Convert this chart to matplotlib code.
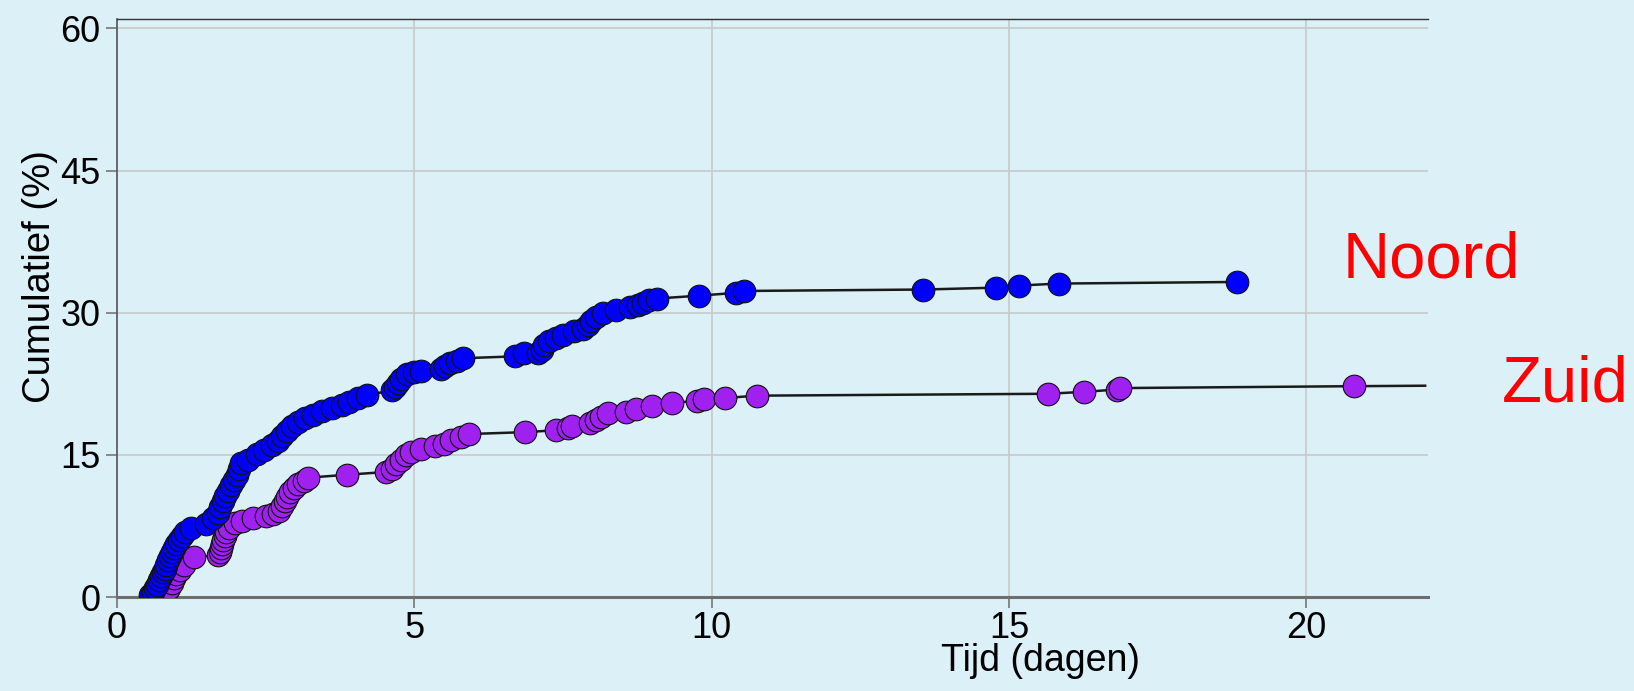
#!/usr/bin/env python3

import matplotlib
matplotlib.use('Agg')
import matplotlib.pyplot as plt

# cumulatief percentage per tijdstip (dagen)
noord_x = [0.55, 0.60, 0.64, 0.68, 0.71, 0.74, 0.77, 0.80, 0.83, 0.86,
           0.89, 0.92, 0.96, 1.00, 1.04, 1.09, 1.15, 1.24, 1.50, 1.62,
           1.70, 1.74, 1.78, 1.82, 1.86, 1.91, 1.96, 2.01, 2.05, 2.09,
           2.20, 2.35, 2.48, 2.60, 2.70, 2.78, 2.86, 2.95, 3.05, 3.17,
           3.30, 3.45, 3.62, 3.78, 3.90, 4.05, 4.20, 4.62, 4.68, 4.73,
           4.78, 4.87, 5.00, 5.12, 5.45, 5.52, 5.60, 5.72, 5.82, 6.70,
           6.84, 7.08, 7.14, 7.18, 7.26, 7.38, 7.50, 7.68, 7.84, 7.92,
           7.98, 8.06, 8.17, 8.40, 8.62, 8.76, 8.85, 8.95, 9.08, 9.78,
           10.41, 10.55, 13.56, 14.79, 15.17, 15.84, 18.84]
noord_y = [0.2, 0.5, 0.9, 1.3, 1.8, 2.2, 2.6, 3.0, 3.4, 3.9,
           4.3, 4.7, 5.2, 5.6, 6.0, 6.4, 6.9, 7.3, 7.7, 8.3,
           8.9, 9.5, 10.1, 10.7, 11.2, 11.8, 12.3, 12.9, 13.5, 14.1,
           14.5, 15.1, 15.5, 16.0, 16.5, 17.0, 17.5, 18.0, 18.5, 18.9,
           19.2, 19.6, 20.0, 20.3, 20.6, 21.0, 21.3, 21.8, 22.2, 22.6,
           23.0, 23.5, 23.8, 23.9, 24.1, 24.4, 24.7, 24.9, 25.2, 25.4,
           25.7, 25.8, 26.1, 26.6, 27.0, 27.3, 27.7, 28.1, 28.3, 28.7,
           29.1, 29.5, 30.0, 30.3, 30.6, 30.8, 31.0, 31.3, 31.5, 31.8,
           32.1, 32.3, 32.45, 32.65, 32.87, 33.08, 33.25]

zuid_x = [0.80, 0.84, 0.88, 0.92, 0.96, 1.00, 1.06, 1.12, 1.30, 1.70,
          1.73, 1.75, 1.77, 1.79, 1.81, 1.84, 1.88, 1.98, 2.10, 2.28,
          2.50, 2.62, 2.72, 2.78, 2.82, 2.86, 2.91, 2.97, 3.05, 3.14,
          3.22, 3.86, 4.53, 4.62, 4.70, 4.78, 4.86, 4.94, 5.12, 5.35,
          5.50, 5.62, 5.78, 5.92, 6.86, 7.39, 7.58, 7.66, 7.95, 8.05,
          8.14, 8.26, 8.56, 8.73, 8.99, 9.33, 9.76, 9.88, 10.22, 10.76,
          15.65, 16.26, 16.82, 16.86, 20.80]
zuid_y = [0.2, 0.6, 1.0, 1.5, 2.0, 2.4, 2.9, 3.4, 4.2, 4.4,
          4.8, 5.2, 5.6, 6.0, 6.4, 6.9, 7.3, 7.8, 8.0, 8.3,
          8.6, 8.8, 9.1, 9.6, 10.1, 10.6, 11.1, 11.5, 11.9, 12.2,
          12.6, 12.9, 13.2, 13.5, 14.0, 14.5, 15.0, 15.3, 15.6, 15.9,
          16.2, 16.6, 16.9, 17.2, 17.4, 17.6, 17.8, 18.1, 18.4, 18.7,
          19.0, 19.4, 19.5, 19.8, 20.2, 20.5, 20.7, 20.9, 21.0, 21.25,
          21.45, 21.65, 21.9, 22.05, 22.25]
# zuid loopt door tot het einde van de as (laatste stap zonder marker)
zuid_end_x = 22.0
zuid_end_y = 22.3

x_ticks = [0, 5, 10, 15, 20]
y_ticks = [0, 15, 30, 45, 60]

BG = '#dbf0f7'
FONT = ['Liberation Sans', 'DejaVu Sans']


def curve(ax, xs, ys, color, line_x=None, line_y=None):
    if line_x is None:
        line_x, line_y = xs, ys
    ax.plot(line_x, line_y, color='#1a1a1a', lw=1.8, zorder=2)
    ax.plot(xs, ys, ls='none', marker='o', ms=16.3, mfc=color,
            mec='#111111', mew=0.8, zorder=3)


plt.rcParams['font.family'] = FONT
fig = plt.figure(figsize=(16.34, 6.91), dpi=100, facecolor=BG)
ax = fig.add_axes([0.0716, 0.136, 0.8024, 0.8365])
ax.set_facecolor(BG)

curve(ax, zuid_x, zuid_y, '#a020f0',
      zuid_x + [zuid_end_x], zuid_y + [zuid_end_y])
curve(ax, noord_x, noord_y, '#0000ff')

ax.set_xlim(0, 22.05)
ax.set_ylim(0, 61)
ax.set_xticks(x_ticks)
ax.set_yticks(y_ticks)
ax.grid(True, color='#c9c9c9', lw=1.2, zorder=0)
ax.set_axisbelow(True)

ax.spines['right'].set_visible(False)
ax.spines['top'].set_color('#333333')
ax.spines['top'].set_linewidth(1.0)
ax.spines['left'].set_color('#555555')
ax.spines['left'].set_linewidth(1.2)
ax.spines['bottom'].set_color('#6e6e6e')
ax.spines['bottom'].set_linewidth(2.2)
ax.tick_params(axis='both', direction='out', length=8, width=1.2,
               color='#777777', labelsize=26)
ax.tick_params(axis='x', pad=2)
ax.tick_params(axis='y', pad=4)

ax.set_xlabel('Tijd (dagen)', fontsize=27)
ax.xaxis.set_label_coords(0.704, -0.08)
ax.set_ylabel('Cumulatief (%)', fontsize=27.5)
ax.yaxis.set_label_coords(-0.045, 0.555)

fig.text(1343 / 1634, 1 - 277 / 691, 'Noord', color='#ff0000',
         fontsize=47, va='baseline', ha='left')
fig.text(1502 / 1634, 1 - 401 / 691, 'Zuid', color='#ff0000',
         fontsize=47, va='baseline', ha='left')

plt.savefig('out.png', dpi=100, facecolor=BG)
plt.close()
